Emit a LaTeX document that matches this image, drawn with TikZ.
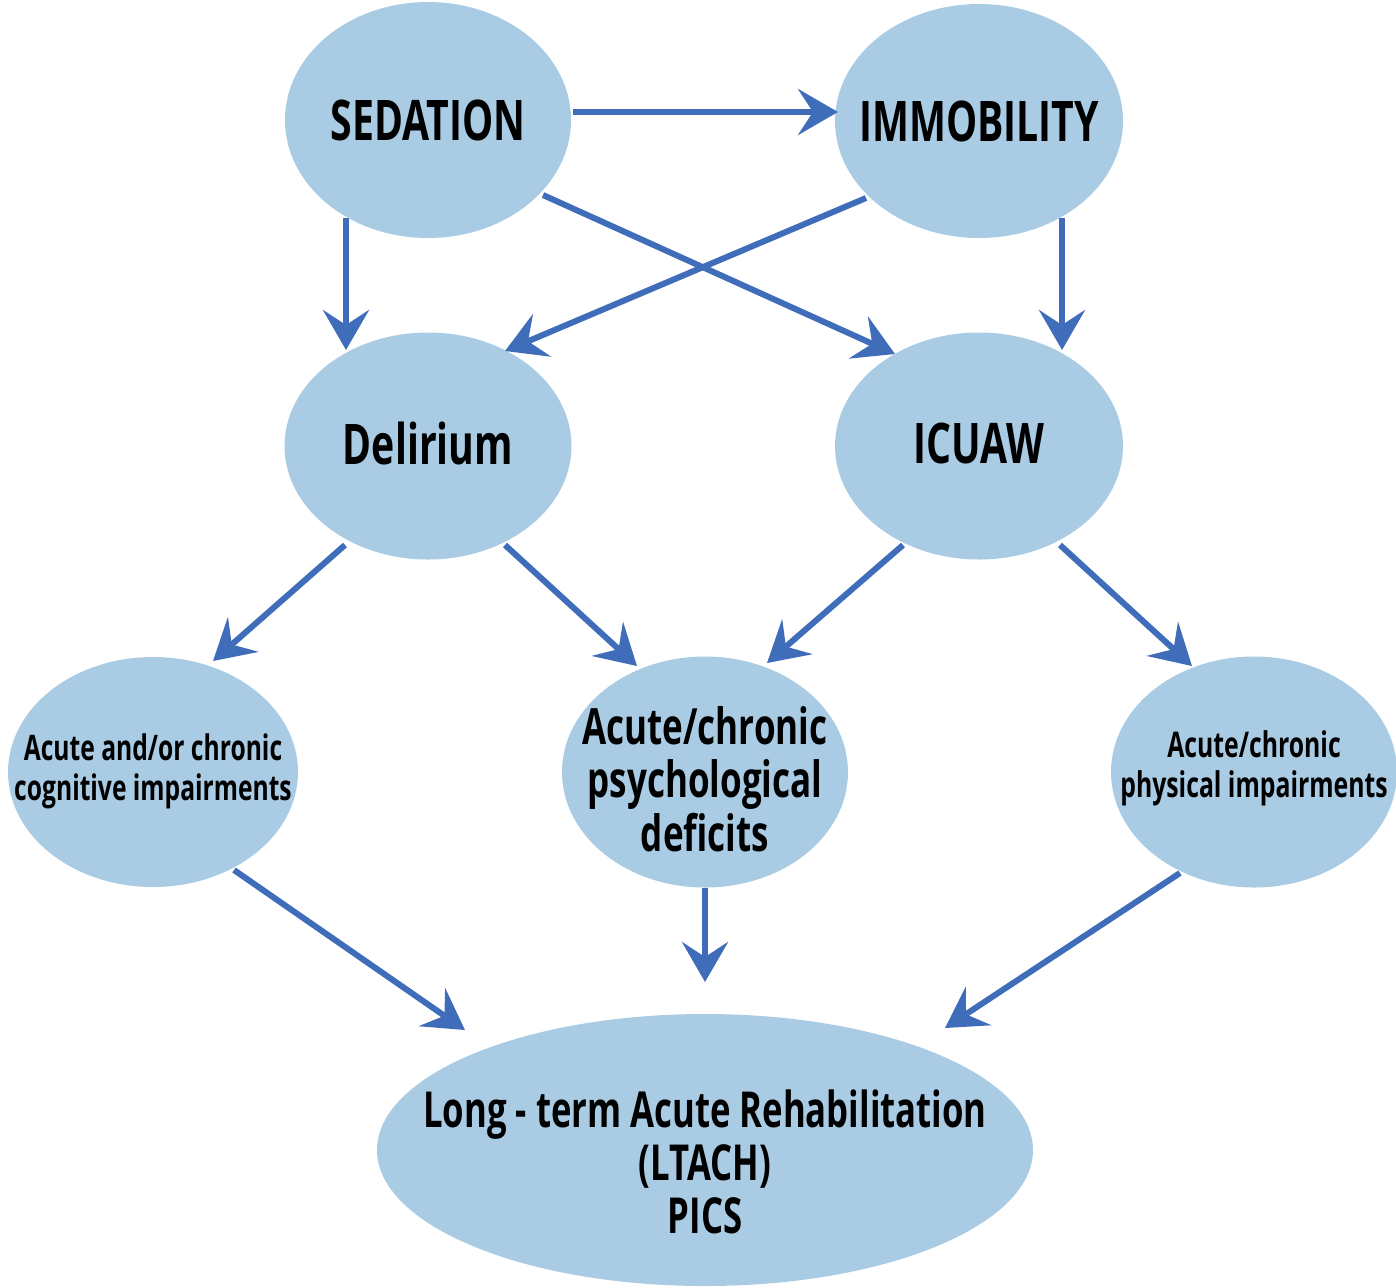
\documentclass[tikz,border=0pt]{standalone}
\usepackage{fontspec}
\setmainfont{Open Sans}[FakeStretch=0.7,BoldFont={* Bold},BoldFeatures={FakeStretch=0.7}]
\usetikzlibrary{shapes.geometric,arrows.meta,calc}
\definecolor{fillb}{HTML}{A9CCE4}
\definecolor{arr}{HTML}{3F6DBA}
\begin{document}
\begin{tikzpicture}[x=0.5pt,y=-0.5pt,
  ell/.style={ellipse,fill=fillb,draw=none,inner sep=0pt},
  txt/.style={align=center,inner sep=0pt,font=\bfseries\fontsize{#1}{1.07\dimexpr#1pt\relax}\selectfont},
  stxt/.style={align=center,inner sep=0pt,font=\bfseries\fontsize{#1}{1.13\dimexpr#1pt\relax}\selectfont},
  con/.style={draw=arr,line width=3pt,-{Stealth[length=20pt,width=23pt,inset=7.5pt]}}]
\useasboundingbox (0,0) rectangle (1396,1287);
\node[ell,minimum width=143pt,minimum height=118pt] (sed) at (428,120) {};
\node[ell,minimum width=144pt,minimum height=117pt] (imm) at (979,121) {};
\node[ell,minimum width=143.5pt,minimum height=113.5pt] (del) at (428,446) {};
\node[ell,minimum width=144pt,minimum height=113.5pt] (icu) at (979,446) {};
\node[ell,minimum width=145pt,minimum height=115pt] (cog) at (153,772) {};
\node[ell,minimum width=143pt,minimum height=115.5pt] (psy) at (705,772) {};
\node[ell,minimum width=143pt,minimum height=115.5pt] (phy) at (1254,772) {};
\node[ell,minimum width=328pt,minimum height=136pt] (bot) at (705,1150) {};
% labels
\node[txt=28] (tsed) at ($(sed)+(0,0)$) {SEDATION};
\node[txt=28] (timm) at ($(imm)+(0,0)$) {IMMOBILITY};
\node[txt=28] (tdel) at ($(del)+(0,-3)$) {Delirium};
\node[txt=28] (ticu) at ($(icu)+(0,-3)$) {ICUAW};
\node[stxt=17.6] (tcog) at ($(cog)+(0,-1)$) {Acute and/or chronic\\cognitive impairments};
\node[txt=25] (tpsy) at ($(psy)+(0,7)$) {Acute/chronic\\psychological\\deficits};
\node[stxt=17.7] (tphy) at ($(phy)+(0,-4)$) {Acute/chronic\\physical impairments};
\node[txt=24.8] (tbot) at ($(bot)+(0,12)$) {Long - term Acute Rehabilitation\\(LTACH)\\PICS};
% connectors
\draw[con] ($(sed)+(145,-8)$) -- ($(imm)+(-141,-9)$);
\draw[con] ($(sed)+(-82,98)$) -- ($(del)+(-82,-96)$);
\draw[con] ($(sed)+(115,75)$) -- ($(icu)+(-84,-92)$);
\draw[con] ($(imm)+(-113,77)$) -- ($(del)+(77,-95)$);
\draw[con] ($(imm)+(83,97)$) -- ($(icu)+(83,-96)$);
\draw[con] ($(del)+(-83,99)$) -- ($(cog)+(60,-111)$);
\draw[con] ($(del)+(77,99)$) -- ($(psy)+(-68,-106)$);
\draw[con] ($(icu)+(-76,99)$) -- ($(psy)+(62,-109)$);
\draw[con] ($(icu)+(81,99)$) -- ($(phy)+(-62,-106)$);
\draw[con] ($(cog)+(81,98)$) -- ($(bot)+(-240,-120)$);
\draw[con] ($(psy)+(0,116)$) -- ($(bot)+(0,-168)$);
\draw[con] ($(phy)+(-74,101)$) -- ($(bot)+(240,-122)$);
\end{tikzpicture}
\end{document}
